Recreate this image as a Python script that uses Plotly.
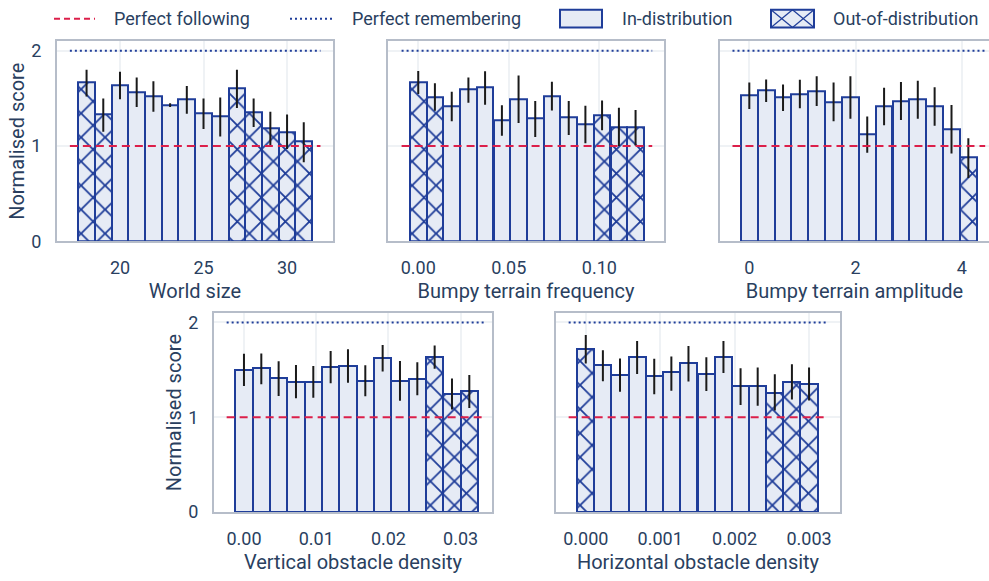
import plotly.graph_objects as go

# ---------------- data ----------------
world_size = [18, 19, 20, 21, 22, 23, 24, 25, 26, 27, 28, 29, 30, 31]
world_score = [1.67, 1.33, 1.64, 1.57, 1.52, 1.43, 1.49, 1.34, 1.31, 1.61, 1.35, 1.19, 1.15, 1.05]
world_hi = [1.80, 1.50, 1.78, 1.72, 1.68, 1.45, 1.63, 1.50, 1.51, 1.80, 1.50, 1.36, 1.33, 1.25]
world_lo = [1.52, 1.15, 1.49, 1.41, 1.36, 1.41, 1.34, 1.18, 1.10, 1.40, 1.20, 1.005, 0.97, 0.83]
world_ood = [1, 1, 0, 0, 0, 0, 0, 0, 0, 1, 1, 1, 1, 1]

freq = [0.0, 0.0092, 0.0185, 0.0277, 0.0369, 0.0462, 0.0554, 0.0646, 0.0738, 0.0831, 0.0923, 0.1015, 0.1108, 0.12]
freq_score = [1.674, 1.516, 1.417, 1.592, 1.616, 1.276, 1.496, 1.29, 1.523, 1.30, 1.228, 1.321, 1.20, 1.197]
freq_hi = [1.787, 1.66, 1.571, 1.719, 1.784, 1.427, 1.739, 1.472, 1.674, 1.472, 1.424, 1.479, 1.403, 1.379]
freq_lo = [1.547, 1.37, 1.259, 1.455, 1.434, 1.108, 1.242, 1.094, 1.372, 1.115, 1.029, 1.166, 1.0, 1.005]
freq_ood = [1, 1, 0, 0, 0, 0, 0, 0, 0, 0, 0, 1, 1, 1]

amp = [0.0, 0.317, 0.635, 0.952, 1.269, 1.587, 1.904, 2.221, 2.538, 2.856, 3.173, 3.49, 3.808, 4.125]
amp_score = [1.53, 1.581, 1.509, 1.547, 1.578, 1.465, 1.509, 1.122, 1.417, 1.475, 1.489, 1.417, 1.18, 0.878]
amp_hi = [1.667, 1.698, 1.647, 1.695, 1.732, 1.667, 1.732, 1.31, 1.612, 1.671, 1.684, 1.616, 1.43, 1.081]
amp_lo = [1.389, 1.461, 1.369, 1.396, 1.42, 1.259, 1.286, 0.93, 1.218, 1.273, 1.286, 1.214, 0.923, 0.666]
amp_ood = [0, 0, 0, 0, 0, 0, 0, 0, 0, 0, 0, 0, 0, 1]

vert = [0.0, 0.0024, 0.0048, 0.0072, 0.0096, 0.012, 0.0144, 0.0168, 0.0192, 0.0216, 0.024, 0.0264, 0.0288, 0.0312]
vert_score = [1.501, 1.515, 1.415, 1.377, 1.377, 1.532, 1.542, 1.387, 1.625, 1.384, 1.408, 1.635, 1.246, 1.277]
vert_hi = [1.67, 1.673, 1.59, 1.552, 1.542, 1.70, 1.718, 1.549, 1.763, 1.594, 1.58, 1.756, 1.408, 1.446]
vert_lo = [1.329, 1.349, 1.225, 1.201, 1.205, 1.36, 1.363, 1.222, 1.484, 1.174, 1.232, 1.511, 1.081, 1.098]
vert_ood = [0, 0, 0, 0, 0, 0, 0, 0, 0, 0, 0, 1, 1, 1]

horiz = [0.0, 0.00023, 0.00046, 0.00069, 0.00092, 0.00115, 0.00138, 0.00162, 0.00185, 0.00208, 0.00231, 0.00254, 0.00277, 0.003]
horiz_score = [1.718, 1.549, 1.449, 1.632, 1.439, 1.473, 1.577, 1.456, 1.639, 1.329, 1.329, 1.26, 1.377, 1.353]
horiz_hi = [1.869, 1.707, 1.621, 1.804, 1.618, 1.642, 1.752, 1.632, 1.804, 1.518, 1.525, 1.453, 1.559, 1.525]
horiz_lo = [1.566, 1.380, 1.270, 1.456, 1.243, 1.281, 1.377, 1.277, 1.466, 1.129, 1.122, 1.071, 1.188, 1.177]
horiz_ood = [1, 0, 0, 0, 0, 0, 0, 0, 0, 0, 0, 1, 1, 1]

x_titles = ["World size", "Bumpy terrain frequency", "Bumpy terrain amplitude",
            "Vertical obstacle density", "Horizontal obstacle density"]
legend_names = ["Perfect following", "Perfect remembering", "In-distribution", "Out-of-distribution"]

# ---------------- style ----------------
W, H = 989, 581
FONT = "Roboto"
TXT = "#2a3f5f"
BLUE = "#1f3d99"
FILL = "#e6ebf5"
RED = "#dc1f4a"
FRAME = "#b6bdc9"
GRID = "#eff2f5"

panels = [
    dict(x=world_size, y=world_score, hi=world_hi, lo=world_lo, ood=world_ood,
         px=(57, 333), py=(41, 245), rng=[16.23, 32.75], dtick=5, fmt="d"),
    dict(x=freq, y=freq_score, hi=freq_hi, lo=freq_lo, ood=freq_ood,
         px=(388, 664), py=(41, 245), rng=[-0.0167, 0.1357], dtick=0.05, fmt=".2f"),
    dict(x=amp, y=amp_score, hi=amp_hi, lo=amp_lo, ood=amp_ood,
         px=(720, 989), py=(41, 245), rng=[-0.552, 4.514], dtick=2, fmt="d"),
    dict(x=vert, y=vert_score, hi=vert_hi, lo=vert_lo, ood=vert_ood,
         px=(214, 492), py=(318, 521), rng=[-0.00415, 0.03434], dtick=0.01, fmt=".2f"),
    dict(x=horiz, y=horiz_score, hi=horiz_hi, lo=horiz_lo, ood=horiz_ood,
         px=(556, 840), py=(318, 521), rng=[-0.0004, 0.003416], dtick=0.001, fmt=".3f"),
]

fig = go.Figure()
for i, p in enumerate(panels):
    n = i + 1
    xa = "x" if n == 1 else f"x{n}"
    ya = "y" if n == 1 else f"y{n}"
    xs = p["x"]
    step = xs[1] - xs[0]
    lx = [xs[0] - step, xs[-1] + step]
    # reference lines
    fig.add_trace(go.Scatter(x=lx, y=[1, 1], mode="lines", xaxis=xa, yaxis=ya,
                             line=dict(color=RED, width=2, dash="8px,5px"),
                             name=legend_names[0], hoverinfo="skip"))
    fig.add_trace(go.Scatter(x=lx, y=[2, 2], mode="lines", xaxis=xa, yaxis=ya,
                             line=dict(color=BLUE, width=2, dash="2px,3px"),
                             name=legend_names[1], hoverinfo="skip"))
    for flag, nm in [(0, legend_names[2]), (1, legend_names[3])]:
        idx = [k for k in range(len(xs)) if p["ood"][k] == flag]
        if not idx:
            continue
        bx = [xs[k] for k in idx]
        by = [p["y"][k] for k in idx]
        ep = [p["hi"][k] - p["y"][k] for k in idx]
        em = [p["y"][k] - p["lo"][k] for k in idx]
        marker = dict(color=FILL, line=dict(color=BLUE, width=2))
        if flag:
            marker["pattern"] = dict(shape="x", fgcolor=BLUE, fgopacity=1, bgcolor=FILL,
                                     size=17, solidity=0.2)
        fig.add_trace(go.Bar(x=bx, y=by, width=step, xaxis=xa, yaxis=ya, marker=marker,
                             error_y=dict(type="data", array=ep, arrayminus=em, symmetric=False,
                                          color="#1a1a1a", thickness=2, width=0),
                             name=nm))

    first_col = n in (1, 4)
    fig.update_layout(**{
        ("xaxis" if n == 1 else f"xaxis{n}"): dict(
            domain=[p["px"][0] / W, p["px"][1] / W], anchor=ya, range=p["rng"],
            dtick=p["dtick"], tick0=0, tickformat=p["fmt"], showgrid=True, gridcolor=GRID,
            gridwidth=1.5, showline=True, linecolor=FRAME, linewidth=2, mirror=True,
            zeroline=False, ticks="", ticklabelstandoff=9,
            tickfont=dict(size=18, color=TXT, family=FONT),
            title=dict(text=x_titles[i], font=dict(size=20, color=TXT, family=FONT), standoff=7)),
        ("yaxis" if n == 1 else f"yaxis{n}"): dict(
            domain=[1 - p["py"][1] / H, 1 - p["py"][0] / H], anchor=xa, range=[0, 2.1],
            tickvals=[0, 1, 2], showticklabels=first_col, showgrid=True, gridcolor=GRID,
            gridwidth=1.5, showline=True, linecolor=FRAME, linewidth=2, mirror=(n != 3),
            zeroline=False, ticks="", ticklabelstandoff=10,
            tickfont=dict(size=18, color=TXT, family=FONT),
            title=dict(text="Normalised score" if first_col else "",
                       font=dict(size=20, color=TXT, family=FONT), standoff=1)),
    })

# ---------------- legend (drawn in paper pixels) ----------------
shapes = []
annotations = []
LY = 18  # legend centre, px from top


def py_(v):
    return 1 - v / H


def px_(v):
    return v / W


sym = [(54, 95), (290, 333), (560, 602), (771, 814)]
txt_x = [112, 350, 620, 831]
shapes.append(dict(type="line", xref="paper", yref="paper", x0=px_(sym[0][0]), x1=px_(sym[0][1]),
                   y0=py_(LY), y1=py_(LY), line=dict(color=RED, width=2, dash="6px,4px")))
shapes.append(dict(type="line", xref="paper", yref="paper", x0=px_(sym[1][0]), x1=px_(sym[1][1]),
                   y0=py_(LY), y1=py_(LY), line=dict(color=BLUE, width=2, dash="2px,3px")))
for k in (2, 3):
    shapes.append(dict(type="rect", xref="paper", yref="paper", x0=px_(sym[k][0]), x1=px_(sym[k][1]),
                       y0=py_(LY + 9), y1=py_(LY - 9), fillcolor=FILL, line=dict(color=BLUE, width=2)))
# hatch of the out-of-distribution symbol
x0, x1 = sym[3]
xm = (x0 + x1) / 2
for a, b in [(x0, xm), (xm, x1)]:
    shapes.append(dict(type="line", xref="paper", yref="paper", x0=px_(a), x1=px_(b),
                       y0=py_(LY - 9), y1=py_(LY + 9), line=dict(color=BLUE, width=1.2)))
    shapes.append(dict(type="line", xref="paper", yref="paper", x0=px_(a), x1=px_(b),
                       y0=py_(LY + 9), y1=py_(LY - 9), line=dict(color=BLUE, width=1.2)))
for k in range(4):
    annotations.append(dict(text=legend_names[k], xref="paper", yref="paper", x=px_(txt_x[k]),
                            y=py_(LY), xanchor="left", yanchor="middle", showarrow=False,
                            font=dict(size=18, color=TXT, family=FONT)))

fig.update_layout(
    width=W, height=H, margin=dict(l=0, r=0, t=0, b=0),
    paper_bgcolor="white", plot_bgcolor="white", barmode="overlay", bargap=0,
    font=dict(family=FONT, color=TXT, size=18),
    showlegend=False, shapes=shapes, annotations=annotations,
)

fig.write_html("out.html")
